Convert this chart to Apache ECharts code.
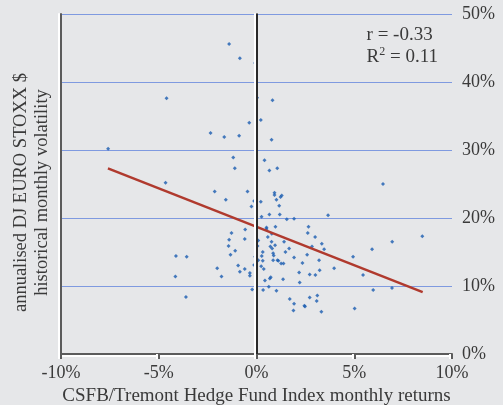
<!DOCTYPE html>
<html>
<head>
<meta charset="utf-8">
<script src="https://cdn.jsdelivr.net/npm/echarts@6/dist/echarts.min.js"></script>
<style>
html,body{margin:0;padding:0;background:#e6e7e9;}
#chart{width:503px;height:405px;}
</style>
</head>
<body>
<div id="chart"></div>
<script>
// Monthly returns (%) of CSFB/Tremont Hedge Fund Index
const returns = [-1.40,-0.85,-0.07,-4.60,0.03,0.82,0.22,-0.37,-2.35,-1.65,-0.89,0.77,-7.59,-1.19,0.41,-1.11,0.66,1.06,-4.65,6.47,
-2.14,-0.46,-1.57,-0.12,0.22,0.92,0.92,1.29,1.23,1.02,1.16,-0.26,0.66,0.26,1.19,1.55,1.92,3.66,0.51,0.51,
0.97,2.66,-0.58,-1.28,0.78,2.62,0.58,3.00,8.48,-1.40,-0.60,0.09,0.77,1.41,6.94,-1.43,0.05,0.95,3.34,2.84,
0.71,-1.09,0.80,1.67,0.32,1.48,3.46,5.91,-1.33,0.85,0.27,-0.07,-4.12,-3.57,0.88,2.59,4.94,1.92,0.09,0.32,
1.07,1.12,0.85,3.20,1.26,1.38,2.35,-0.12,-0.94,0.24,-2.01,-0.60,0.37,3.97,-0.85,3.23,-0.34,2.18,-0.34,-4.15,
-1.79,2.72,3.01,5.45,0.68,0.73,0.43,1.36,2.21,0.63,-0.22,0.34,1.02,5.97,6.93,-3.61,1.70,2.72,3.11,1.92,
3.08,2.45,2.48,1.89,3.32,5.02];
// Annualised DJ EURO STOXX $ historical monthly volatility (%)
const volatility = [45.6,43.5,42.8,37.6,37.7,37.3,34.4,34.0,32.5,31.9,32.1,31.5,30.2,28.9,28.5,27.3,27.0,27.3,25.2,25.0,
23.9,23.9,22.7,22.5,22.4,23.7,23.4,23.3,23.1,22.7,21.8,21.7,20.5,20.2,20.5,19.8,19.9,20.4,18.6,18.4,
18.7,18.7,18.3,17.8,17.7,17.8,17.2,17.2,17.3,16.8,16.9,16.7,16.5,16.5,16.5,15.9,15.9,16.0,16.2,15.8,
15.8,15.2,15.5,15.5,15.0,15.0,15.4,15.4,14.6,14.8,14.4,14.3,14.4,14.3,14.5,14.6,14.3,14.2,13.8,13.7,
13.8,13.7,13.8,13.8,13.3,13.3,13.4,13.1,13.0,12.9,12.6,12.5,12.5,12.6,12.1,12.3,11.9,12.0,11.5,11.4,
11.4,11.7,11.6,11.6,11.1,11.3,10.8,11.0,10.5,9.9,9.5,9.4,9.3,9.4,9.7,8.4,8.1,8.3,8.6,7.4,
7.8,7.1,7.0,6.4,6.2,6.7];
// Regression line end points [return, volatility]
const trendX = [-7.6, 8.5];
const trendY = [27.3, 9.1];
const xTicks = ['-10%','-5%','0%','5%','10%'];
const yTicks = ['0%','10%','20%','30%','40%','50%'];
const statsText = ['r = -0.33', 'R{sup|2} = 0.11'];

const points = returns.map((x, i) => [x, volatility[i]]);
const trend = trendX.map((x, i) => [x, trendY[i]]);

const font = 'Liberation Serif';
const chart = echarts.init(document.getElementById('chart'));
chart.setOption({
  backgroundColor: '#e6e7e9',
  animation: false,
  textStyle: {fontFamily: font},
  grid: {left: 61, right: 51, top: 14, bottom: 51, containLabel: false, outerBoundsMode: 'none'},
  xAxis: {
    type: 'value', min: -10, max: 10, interval: 5,
    axisLine: {show: true, onZero: false, lineStyle: {color: '#5b5b5b', width: 2, shadowColor: '#ffffff', shadowOffsetY: 2, shadowBlur: 0}},
    axisTick: {show: true, length: 5, lineStyle: {color: '#5b5b5b', width: 2, shadowColor: '#ffffff', shadowOffsetX: -2, shadowBlur: 0}},
    splitLine: {show: false},
    axisLabel: {
      color: '#3a3a3a', fontFamily: font, fontSize: 18, margin: 10,
      formatter: v => xTicks[Math.round((v + 10) / 5)]
    },
    name: 'CSFB/Tremont Hedge Fund Index monthly returns',
    nameLocation: 'middle', nameGap: 31,
    nameTextStyle: {color: '#3a3a3a', fontFamily: font, fontSize: 19}
  },
  yAxis: [{
    type: 'value', min: 0, max: 50, interval: 10, position: 'right',
    axisLine: {show: true, lineStyle: {color: '#5b5b5b', width: 2, shadowColor: '#ffffff', shadowOffsetX: -2, shadowBlur: 0}},
    axisTick: {show: false},
    splitLine: {show: true, lineStyle: {color: '#7f9ae0', width: 1}},
    axisLabel: {
      color: '#3a3a3a', fontFamily: font, fontSize: 18, margin: 10,
      formatter: v => yTicks[Math.round(v / 10)]
    }
  }, {
    type: 'value', min: 0, max: 50, interval: 10, position: 'left',
    axisLine: {show: true, lineStyle: {color: '#5b5b5b', width: 2, shadowColor: '#ffffff', shadowOffsetX: -2, shadowBlur: 0}},
    axisTick: {show: false}, splitLine: {show: false}, axisLabel: {show: false},
    name: 'annualised DJ EURO STOXX $\nhistorical monthly volatility',
    nameLocation: 'middle', nameGap: 8, nameRotate: 90,
    nameTextStyle: {color: '#3a3a3a', fontFamily: font, fontSize: 18.5, lineHeight: 21, padding: [0, 17, 0, 0]}
  }],
  series: [{
    type: 'scatter',
    data: points,
    symbol: 'diamond',
    symbolSize: 4,
    itemStyle: {color: '#1a5db0'},
    markLine: {
      silent: true, symbol: 'none', label: {show: false},
      lineStyle: {color: '#2a2a2a', width: 2, type: 'solid', shadowColor: '#ffffff', shadowOffsetX: -2, shadowBlur: 0},
      data: [{xAxis: 0}]
    },
    z: 3
  }, {
    type: 'line',
    data: trend,
    symbol: 'none',
    lineStyle: {color: '#b03a2e', width: 2.5},
    z: 4
  }],
  graphic: [{
    type: 'text', right: 65, top: 24,
    style: {
      text: statsText[0] + '\n' + statsText[1],
      fill: '#3a3a3a', font: '19px "Liberation Serif"', lineHeight: 22, align: 'left',
      rich: {sup: {fontSize: 12, verticalAlign: 'top', fill: '#3a3a3a', fontFamily: font, padding: [0,0,6,0]}}
    }
  }]
});
</script>
</body>
</html>
